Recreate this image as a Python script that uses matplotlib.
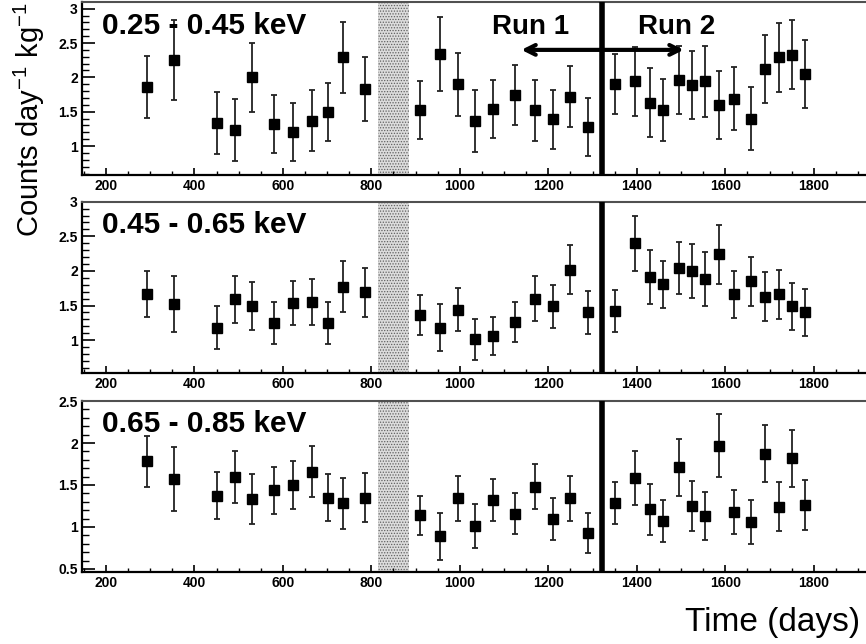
import numpy as np
import matplotlib
matplotlib.use("Agg")
import matplotlib.pyplot as plt
from matplotlib.ticker import MultipleLocator, FuncFormatter

plt.rcParams['font.family'] = ['Liberation Sans', 'DejaVu Sans']
plt.rcParams['mathtext.fontset'] = 'custom'
plt.rcParams['mathtext.rm'] = 'Liberation Sans'
plt.rcParams['mathtext.it'] = 'Liberation Sans:italic'
plt.rcParams['mathtext.bf'] = 'Liberation Sans:bold'
plt.rcParams['hatch.linewidth'] = 0.6

# time of each bin (days)
days = [293, 353, 452, 492, 531, 579, 624, 666, 702, 736, 785, 910, 956, 996,
        1035, 1076, 1125, 1169, 1211, 1250, 1289, 1350, 1396, 1430, 1459, 1495,
        1524, 1554, 1586, 1619, 1657, 1690, 1721, 1750, 1780]

rate_025 = [1.86, 2.25, 1.33, 1.23, 2.0, 1.32, 1.2, 1.37, 1.5, 2.29, 1.83, 1.53,
            2.34, 1.9, 1.36, 1.54, 1.74, 1.52, 1.39, 1.72, 1.28, 1.9, 1.94, 1.63,
            1.52, 1.96, 1.89, 1.94, 1.6, 1.69, 1.4, 2.12, 2.29, 2.33, 2.05]
err_025 = [0.45, 0.58, 0.45, 0.45, 0.5, 0.42, 0.42, 0.44, 0.42, 0.52, 0.47, 0.42,
           0.54, 0.46, 0.45, 0.42, 0.44, 0.44, 0.43, 0.44, 0.42, 0.44, 0.5, 0.5,
           0.45, 0.5, 0.49, 0.51, 0.49, 0.46, 0.46, 0.5, 0.5, 0.5, 0.49]

rate_045 = [1.67, 1.52, 1.18, 1.59, 1.49, 1.25, 1.54, 1.55, 1.25, 1.77, 1.69, 1.36,
            1.18, 1.44, 1.01, 1.06, 1.26, 1.60, 1.49, 2.02, 1.40, 1.42, 2.40, 1.91,
            1.81, 2.04, 2.0, 1.88, 2.24, 1.66, 1.85, 1.63, 1.66, 1.49, 1.40]
err_045 = [0.33, 0.4, 0.31, 0.34, 0.35, 0.3, 0.32, 0.33, 0.3, 0.37, 0.35, 0.29,
           0.34, 0.31, 0.3, 0.27, 0.29, 0.32, 0.31, 0.35, 0.31, 0.3, 0.4, 0.39,
           0.34, 0.38, 0.39, 0.39, 0.43, 0.34, 0.35, 0.36, 0.36, 0.34, 0.34]

rate_065 = [1.78, 1.57, 1.37, 1.59, 1.33, 1.44, 1.50, 1.66, 1.35, 1.28, 1.35, 1.14,
            0.89, 1.34, 1.01, 1.32, 1.16, 1.48, 1.09, 1.34, 0.93, 1.29, 1.58, 1.21,
            1.07, 1.71, 1.25, 1.13, 1.97, 1.18, 1.06, 1.87, 1.24, 1.82, 1.26]
err_065 = [0.3, 0.38, 0.28, 0.31, 0.3, 0.28, 0.28, 0.3, 0.28, 0.3, 0.29, 0.23,
           0.28, 0.27, 0.26, 0.25, 0.24, 0.27, 0.25, 0.27, 0.24, 0.25, 0.32, 0.3,
           0.25, 0.34, 0.3, 0.29, 0.38, 0.26, 0.26, 0.34, 0.29, 0.34, 0.3]

labels = ['0.25 - 0.45 keV', '0.45 - 0.65 keV', '0.65 - 0.85 keV']
rates = [rate_025, rate_045, rate_065]
errs = [err_025, err_045, err_065]
ylims = [(0.58, 3.09), (0.52, 3.0), (0.46, 2.5)]

run_split = 1321
gap = (814, 885)

fig = plt.figure(figsize=(8.66, 6.44), dpi=100)
boxes = [[0.0947, 0.7283, 0.9053, 0.2679],
         [0.0947, 0.4203, 0.9053, 0.2665],
         [0.0947, 0.1113, 0.9053, 0.2660]]

axes = []
for i in range(3):
    ax = fig.add_axes(boxes[i])
    axes.append(ax)
    ax.axvspan(gap[0], gap[1], facecolor='#dcdcdc', edgecolor='#606060',
               hatch='......', lw=0, zorder=1)
    ax.axvline(run_split, color='black', lw=4, zorder=3)
    ax.errorbar(days, rates[i], yerr=errs[i], fmt='s', color='black',
                ecolor='#222222', elinewidth=1.3, capsize=2.2, capthick=1.3,
                markersize=7.5, zorder=4)
    ax.set_xlim(146, 1918)
    ax.set_ylim(*ylims[i])
    ax.xaxis.set_major_locator(MultipleLocator(200))
    ax.xaxis.set_minor_locator(MultipleLocator(50))
    ax.yaxis.set_major_locator(MultipleLocator(0.5))
    ax.yaxis.set_minor_locator(MultipleLocator(0.1))
    ax.yaxis.set_major_formatter(FuncFormatter(lambda v, p: '%g' % v))
    ax.tick_params(axis='y', which='major', direction='in', length=9, width=1.2,
                   labelsize=10, pad=3)
    ax.tick_params(axis='y', which='minor', direction='in', length=5, width=1)
    ax.tick_params(axis='x', which='major', direction='in', length=5, width=1.2,
                   labelsize=10, pad=3)
    ax.tick_params(axis='x', which='minor', direction='in', length=3, width=1)
    for lab in ax.get_xticklabels() + ax.get_yticklabels():
        lab.set_fontweight('bold')
    ax.spines['right'].set_visible(False)
    ax.spines['top'].set_color('#505050')
    ax.spines['top'].set_linewidth(1.5)
    ax.spines['left'].set_linewidth(1.6)
    ax.spines['bottom'].set_linewidth(1.6)
    ax.text(0.025, 0.865, labels[i], transform=ax.transAxes, fontsize=21.5,
            fontweight='bold', va='center', ha='left', zorder=5)

ax = axes[0]
ax.annotate('', xy=(1139, 2.4), xytext=(1506, 2.4),
            arrowprops=dict(arrowstyle='<->,head_length=0.7,head_width=0.35',
                            lw=3, color='black', shrinkA=0, shrinkB=0), zorder=5)
ax.text(1160, 2.73, 'Run 1', fontsize=20, fontweight='bold', ha='center', va='center')
ax.text(1490, 2.73, 'Run 2', fontsize=20, fontweight='bold', ha='center', va='center')

fig.text(0.034, 0.815, r'Counts day$^{\mathregular{-1}}$ kg$^{\mathregular{-1}}$',
         rotation=90, fontsize=21, ha='center', va='center')
fig.text(0.993, 0.034, 'Time (days)', fontsize=24, ha='right', va='center')

fig.savefig('out.png', dpi=100)
